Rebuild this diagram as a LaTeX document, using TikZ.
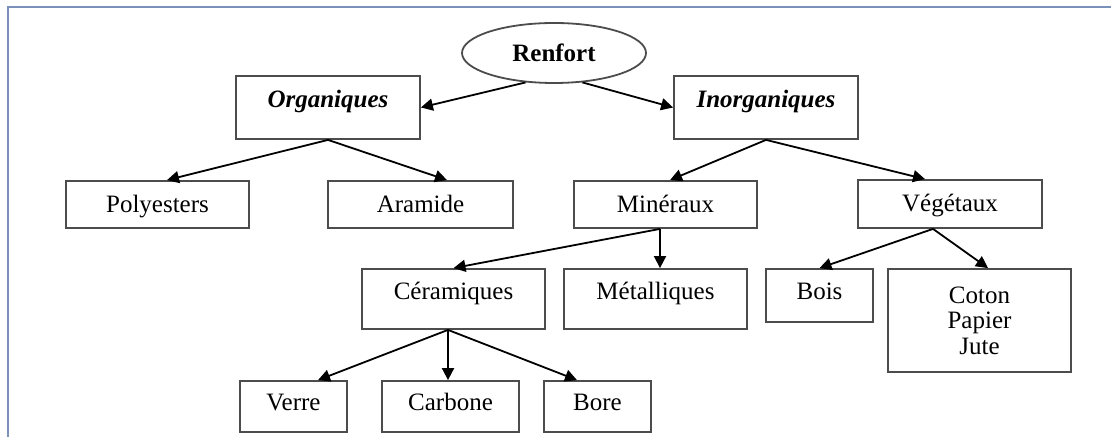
\documentclass[tikz,border=0pt]{standalone}
\usepackage{fontspec}
\setmainfont{Liberation Serif}
\usetikzlibrary{arrows.meta,shapes.geometric}
\definecolor{frameblue}{RGB}{122,146,186}
\begin{document}
\begin{tikzpicture}[x=0.5pt,y=-0.5pt,
  font=\fontsize{12.5}{12.75}\selectfont,
  box/.style={draw=black!70,line width=0.9pt,inner sep=0pt,text height=10pt,text depth=2pt},
  link/.style={-{Triangle[length=6pt,width=6pt]},line width=0.9pt}]
\useasboundingbox (0,0) rectangle (1111,437);
\draw[frameblue,line width=0.8pt] (8,437) -- (8,7) -- (1111,7);

\node[ellipse,draw=black!70,line width=0.9pt,inner sep=0pt,minimum width=92pt,minimum height=30pt] (renfort) at (554,53) {\bfseries Renfort};

\node[box,minimum width=92pt,minimum height=31.5pt,text depth=10.3pt] (organiques) at (328,107.5) {\bfseries\itshape Organiques};
\node[box,minimum width=92pt,minimum height=31.5pt,text depth=10.3pt] (inorganiques) at (766,107.5) {\bfseries\itshape Inorganiques};

\node[box,minimum width=91.5pt,minimum height=23.5pt] (polyesters) at (157.5,204.5) {Polyesters};
\node[box,minimum width=92.5pt,minimum height=23.5pt] (aramide) at (420.5,204.5) {Aramide};
\node[box,minimum width=91.5pt,minimum height=23.5pt] (mineraux) at (665.5,204.5) {Minéraux};
\node[box,minimum width=92pt,minimum height=24pt] (vegetaux) at (950,204) {Végétaux};

\node[box,minimum width=91.5pt,minimum height=30pt,text depth=9.1pt] (ceramiques) at (453.5,299) {Céramiques};
\node[box,minimum width=91.5pt,minimum height=30pt,text depth=9.1pt] (metalliques) at (655.5,299) {Métalliques};
\node[box,minimum width=53.5pt,minimum height=26.5pt,text depth=5.6pt] (bois) at (819.5,295.5) {Bois};
\node[box,minimum width=91.5pt,minimum height=51.5pt,text height=,text depth=,align=center] (coton) at (979.5,320.5) {Coton\\Papier\\Jute};

\foreach \name/\x/\w/\lab in {verre/293.5/53.5/Verre,carbone/450.5/68.5/Carbone,bore/597.5/53.5/Bore}
  \node[box,minimum width=\w pt,minimum height=25.5pt,text depth=6pt] (\name) at (\x,406.5) {\lab};

\draw[link] (renfort.226) -- (organiques.east);
\draw[link] (renfort.314) -- (inorganiques.west);
\draw[link] (organiques.south) -- ([xshift=4.75pt]polyesters.north);
\draw[link] (organiques.south) -- ([xshift=13.25pt]aramide.north);
\draw[link] (inorganiques.south) -- ([xshift=2.25pt]mineraux.north);
\draw[link] (inorganiques.south) -- ([xshift=-12.5pt]vegetaux.north);
\draw[link] ([xshift=-2.75pt]mineraux.south) -- (ceramiques.north);
\draw[link] ([xshift=-2.75pt]mineraux.south) -- ([xshift=2.25pt]metalliques.north);
\draw[link] ([xshift=-8.5pt]vegetaux.south) -- (bois.north);
\draw[link] ([xshift=-8.5pt]vegetaux.south) -- ([xshift=4.25pt]coton.north);
\draw[link] ([xshift=-2.75pt]ceramiques.south) -- ([xshift=12.25pt]verre.north);
\draw[link] ([xshift=-2.75pt]ceramiques.south) -- ([xshift=-1.25pt]carbone.north);
\draw[link] ([xshift=-2.75pt]ceramiques.south) -- ([xshift=-10.25pt]bore.north);
\end{tikzpicture}
\end{document}
